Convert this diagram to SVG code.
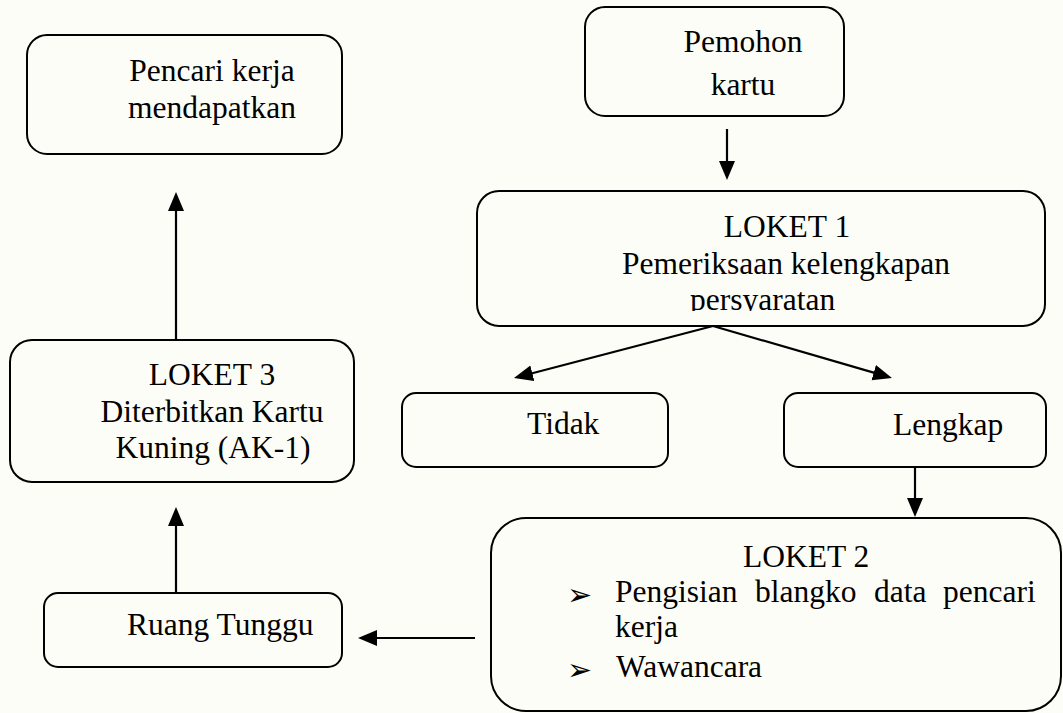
<svg xmlns="http://www.w3.org/2000/svg" width="1063" height="713" viewBox="0 0 1063 713">
  <style>
    .box { fill: none; stroke: #000; stroke-width: 2; }
    .t { font-family: "Liberation Serif", "Times New Roman", serif; font-size: 31.5px; fill: #000; }
    .c { text-anchor: middle; }
    .bullet { font-family: "DejaVu Sans", sans-serif; font-size: 30px; fill: #000; }
    .link { fill: none; stroke: #000; stroke-width: 2.2; marker-end: url(#head); }
  </style>
  <defs>
    <marker id="head" markerUnits="userSpaceOnUse" markerWidth="20" markerHeight="17" refX="8" refY="8" orient="auto">
      <path d="M0,0 L19,8 L0,16 z" fill="#000"/>
    </marker>
    <clipPath id="loket1-clip">
      <rect x="477" y="191" width="568" height="120"/>
    </clipPath>
  </defs>

  <rect x="0" y="0" width="1063" height="713" fill="#fdfdf7"/>

  <!-- connectors -->
  <g id="connectors">
    <line class="link" x1="727" y1="129" x2="727" y2="169"/>
    <line class="link" x1="713" y1="326" x2="524.6" y2="375.3"/>
    <line class="link" x1="713" y1="326" x2="881.4" y2="374.9"/>
    <line class="link" x1="915" y1="467" x2="915" y2="506"/>
    <line class="link" x1="475" y1="638" x2="369" y2="638"/>
    <line class="link" x1="176" y1="593" x2="176" y2="518"/>
    <line class="link" x1="176" y1="340" x2="176" y2="203"/>
  </g>

  <g id="pencari-kerja">
    <rect class="box" x="27" y="35" width="315" height="119" rx="20"/>
    <text class="t c" x="212" y="81">Pencari kerja</text>
    <text class="t c" x="212" y="118">mendapatkan</text>
  </g>

  <g id="pemohon">
    <rect class="box" x="585" y="7" width="259" height="109" rx="20"/>
    <text class="t c" x="743" y="52">Pemohon</text>
    <text class="t c" x="743" y="95">kartu</text>
  </g>

  <g id="loket1">
    <rect class="box" x="477" y="191" width="568" height="135" rx="22"/>
    <text class="t c" x="787" y="237">LOKET 1</text>
    <text class="t c" x="786" y="274">Pemeriksaan kelengkapan</text>
    <text class="t" x="690" y="310" clip-path="url(#loket1-clip)">persyaratan</text>
  </g>

  <g id="tidak">
    <rect class="box" x="402" y="393" width="266" height="74" rx="14"/>
    <text class="t" x="527" y="434">Tidak</text>
  </g>

  <g id="lengkap">
    <rect class="box" x="784" y="393" width="262" height="74" rx="14"/>
    <text class="t" x="893" y="435">Lengkap</text>
  </g>

  <g id="loket2">
    <rect class="box" x="491" y="518" width="570" height="193" rx="35"/>
    <text class="t" x="743" y="567">LOKET 2</text>
    <text class="bullet" x="567" y="605">➢</text>
    <text class="t" y="602"><tspan x="615">Pengisian</tspan><tspan x="755">blangko</tspan><tspan x="874">data</tspan><tspan x="943">pencari</tspan></text>
    <text class="t" x="615" y="637">kerja</text>
    <text class="bullet" x="567" y="680">➢</text>
    <text class="t" x="616" y="677">Wawancara</text>
  </g>

  <g id="ruang-tunggu">
    <rect class="box" x="44" y="593" width="298" height="74" rx="14"/>
    <text class="t" x="127" y="635">Ruang Tunggu</text>
  </g>

  <g id="loket3">
    <rect class="box" x="10" y="340" width="344" height="142" rx="22"/>
    <text class="t c" x="212" y="385">LOKET 3</text>
    <text class="t c" x="212" y="422">Diterbitkan Kartu</text>
    <text class="t c" x="213" y="458">Kuning (AK-1)</text>
  </g>
</svg>
